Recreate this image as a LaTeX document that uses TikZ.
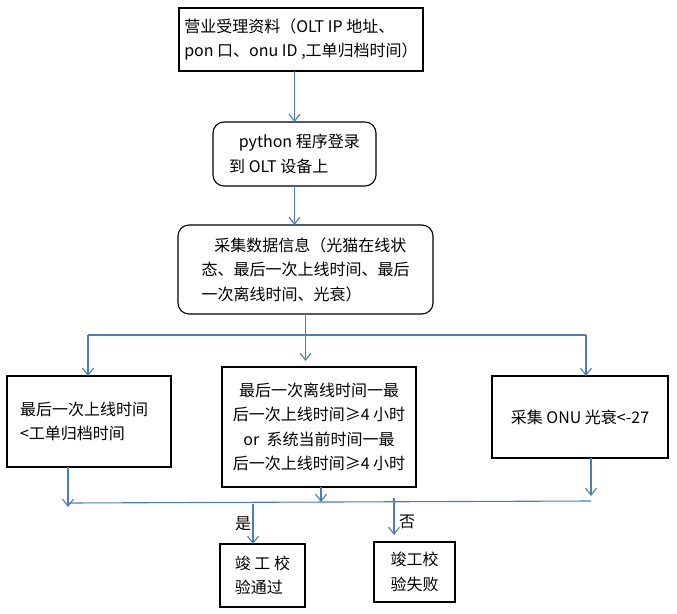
\documentclass[tikz,border=0pt]{standalone}
\usepackage{fontspec}
\setmainfont{Noto Sans CJK SC}
\usepackage{tikz}
\usetikzlibrary{positioning, arrows.meta, calc}

\definecolor{xianlan}{RGB}{74,126,187}
\newcommand{\kuangzi}{\fontsize{16pt}{24.5pt}\selectfont}

\begin{document}
\begin{tikzpicture}[x=1pt, y=-1pt, >={Straight Barb[length=7pt,width=11pt]},
    kuang/.style={draw=black, line width=1.1pt, inner sep=0pt, outer sep=0pt, font=\kuangzi},
    yuankuang/.style={kuang, rounded corners=11pt},
    xian/.style={draw=xianlan, line width=1.1pt}]

    \useasboundingbox (0,0) rectangle (677,613);

    % ================= 方框 (Boxes) =================
    % 上面三个框
    \node[kuang, align=left, minimum width=244, minimum height=63] (ziliao) at (301,39.5) {营业受理资料（OLT IP 地址、\\pon 口、onu ID ,工单归档时间）};
    \node[yuankuang, align=left, minimum width=163, minimum height=64] (denglu) at (294.5,154) {\hspace{0.6em}python 程序登录\\到 OLT 设备上};
    \node[yuankuang, align=left, minimum width=255, minimum height=89] (caiji) at (305.5,269.5) {\hspace{0.8em}采集数据信息（光猫在线状\\态、最后一次上线时间、最后\\一次离线时间、光衰）};

    % 中间三个判断条件
    \node[kuang, align=left, text width=138, inner xsep=13, minimum height=91] (shangxian) at (89,421.5) {最后一次上线时间\\<工单归档时间};
    \node[kuang, align=center, minimum width=194, minimum height=120] (lixian) at (319,427) {最后一次离线时间一最\\后一次上线时间≥4 小时\\or\ \ 系统当前时间一最\\后一次上线时间≥4 小时};
    \node[kuang, minimum width=176, minimum height=82] (guangshuai) at (580,417) {采集 ONU 光衰<-27};

    % 结果
    \node[kuang, align=left, minimum width=85, minimum height=63] (tongguo) at (262.5,575.5) {竣 工 校\\验通过};
    \node[kuang, align=left, minimum width=81, minimum height=60] (shibai) at (414.5,572) {竣工校\\验失败};

    % ================= 连线 (Wiring) =================
    \draw[xian, ->] (ziliao.south -| denglu.north) -- (denglu.north);
    \draw[xian, ->] (denglu.south) -- (denglu.south |- caiji.north);

    % 分支
    \coordinate (fenL) at (88,335);
    \coordinate (fenR) at (586,335);
    \draw[xian] (caiji.south) -- (caiji.south |- fenL);
    \draw[xian] (fenL) -- (fenR);
    \draw[xian, ->] (fenL) -- (fenL |- shangxian.north);
    \draw[xian, ->] (caiji.south |- fenL) -- ([yshift=6pt]caiji.south |- lixian.north);
    \draw[xian, ->] (fenR) -- (fenR |- guangshuai.north);

    % 汇合
    \coordinate (heL) at (68,503);
    \coordinate (heR) at (591,501);
    \coordinate (heM) at (321,502);
    \coordinate (jieR) at (591,496);
    \draw[xian] (heL) -- (heR);
    \draw[xian, ->] (shangxian.south -| heL) -- ([yshift=-4pt]heL);
    \draw[xian, ->] (lixian.south -| heM) -- (heM);
    \draw[xian, ->] (guangshuai.south -| jieR) -- (jieR);

    % 是 / 否
    \coordinate (shiQi) at (253,504);
    \coordinate (fouQi) at (394,498);
    \draw[xian, ->] (shiQi) -- (shiQi |- tongguo.north);
    \draw[xian, ->] (fouQi) -- ([yshift=7pt]fouQi |- shibai.north);
    \node[font=\kuangzi] (shi) at (243,524) {是};
    \node[font=\kuangzi] (fou) at (407,522) {否};

\end{tikzpicture}
\end{document}
